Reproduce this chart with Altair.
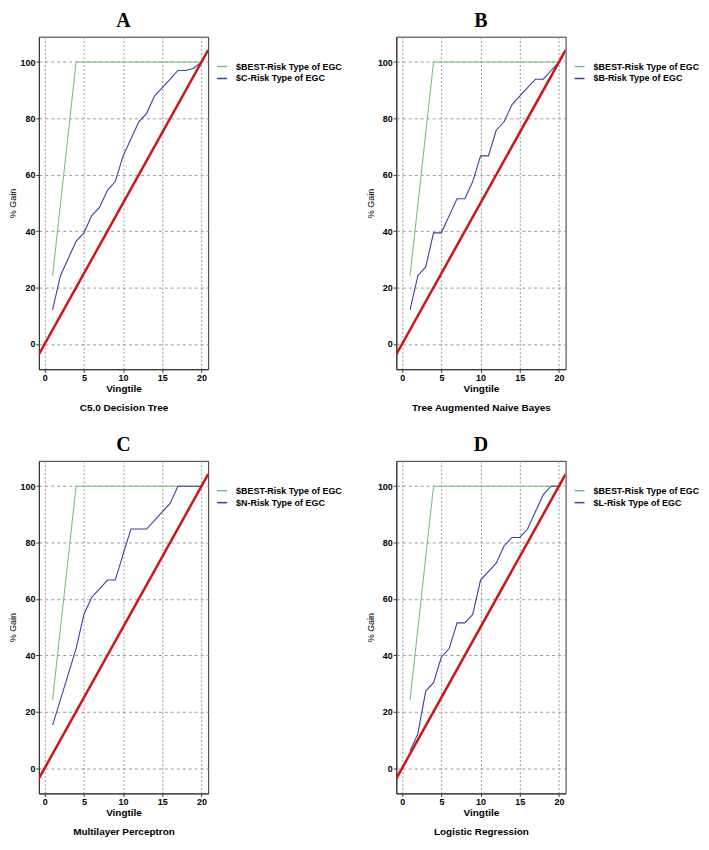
import altair as alt
import pandas as pd

vingtile = list(range(1, 21))
best_gain = [24.2, 49.5, 74.7, 100.0, 100.0, 100.0, 100.0, 100.0, 100.0, 100.0,
             100.0, 100.0, 100.0, 100.0, 100.0, 100.0, 100.0, 100.0, 100.0, 100.0]
c_gain = [12.1, 24.2, 30.3, 36.4, 39.4, 45.5, 48.5, 54.5, 57.6, 66.7,
          72.7, 78.8, 81.8, 87.9, 90.9, 93.9, 97.0, 97.0, 97.8, 100.0]
b_gain = [12.1, 24.2, 27.3, 39.4, 39.4, 45.5, 51.5, 51.5, 57.6, 66.7,
          66.7, 75.8, 78.8, 84.8, 87.9, 90.9, 93.9, 93.9, 97.0, 100.0]
n_gain = [15.2, 24.2, 33.3, 42.4, 54.5, 60.6, 63.6, 66.7, 66.7, 75.8,
          84.8, 84.8, 84.8, 87.9, 90.9, 93.9, 100.0, 100.0, 100.0, 100.0]
l_gain = [6.1, 12.1, 27.3, 30.3, 39.4, 42.4, 51.5, 51.5, 54.5, 66.7,
          69.7, 72.7, 78.8, 81.8, 81.8, 84.8, 90.9, 97.0, 100.0, 100.0]

ref_x = [-0.75, 20.85]
ref_y = [-3.75, 104.25]

letters = ["A", "B", "C", "D"]
series_names = ["$C-Risk Type of EGC", "$B-Risk Type of EGC",
                "$N-Risk Type of EGC", "$L-Risk Type of EGC"]
captions = ["C5.0 Decision Tree", "Tree Augmented Naive Bayes",
            "Multilayer Perceptron", "Logistic Regression"]
model_gains = [c_gain, b_gain, n_gain, l_gain]
best_name = "$BEST-Risk Type of EGC"

GREEN = "#74c27f"
BLUE = "#3c3f9e"
RED = "#cc1616"
W, H = 170, 334


def panel(letter, name, gains, caption):
    df = pd.DataFrame({
        "Vingtile": vingtile + vingtile,
        "Gain": best_gain + gains,
        "Series": [best_name] * len(vingtile) + [name] * len(vingtile),
    })
    ref = pd.DataFrame({"Vingtile": ref_x, "Gain": ref_y})
    x = alt.X("Vingtile:Q",
              scale=alt.Scale(domain=[-0.75, 20.85], nice=False, zero=False),
              axis=alt.Axis(values=[0, 5, 10, 15, 20], title=["Vingtile", caption],
                            titleLineHeight=19, titleFontWeight="bold", titleFontSize=10,
                            titlePadding=1, labelPadding=1,
                            gridDash=[2, 2]))
    y = alt.Y("Gain:Q",
              scale=alt.Scale(domain=[-9, 109], nice=False, zero=False),
              axis=alt.Axis(values=[0, 20, 40, 60, 80, 100], title="% Gain",
                            titleFontWeight="normal", titleFontSize=9,
                            titlePadding=2, labelPadding=1,
                            gridDash=[3, 3]))
    lines = alt.Chart(df).mark_line(strokeWidth=1.1, clip=True).encode(
        x=x, y=y,
        color=alt.Color("Series:N",
                        scale=alt.Scale(domain=[best_name, name], range=[GREEN, BLUE]),
                        sort=[best_name, name],
                        legend=alt.Legend(title=None, orient="none", legendX=W + 9, legendY=25,
                                          symbolType="M-1.25,0H1.25", symbolSize=64,
                                          symbolStrokeWidth=1.5, labelFontSize=9,
                                          labelFontWeight="bold", labelColor="#000",
                                          labelFont="Liberation Sans", rowPadding=2,
                                          labelOffset=9)),
    )
    red = alt.Chart(ref).mark_line(color=RED, strokeWidth=2.5, clip=True).encode(x=x, y=y)
    return alt.layer(lines, red).properties(
        width=W, height=H,
        title=alt.Title(letter, font="Liberation Serif", fontSize=20, fontWeight="bold",
                        color="#000", anchor="middle", frame="group", offset=6),
    )


panels = [panel(letters[i], series_names[i], model_gains[i], captions[i]) for i in range(4)]

row1 = alt.hconcat(panels[0], panels[1], spacing=22).resolve_scale(color="independent")
row2 = alt.hconcat(panels[2], panels[3], spacing=22).resolve_scale(color="independent")
chart = alt.vconcat(row1, row2, spacing=21).resolve_scale(color="independent").properties(
    padding=0, background="white"
).configure_axis(
    labelFont="Liberation Sans", labelFontSize=9, labelFontWeight="bold", labelColor="#000",
    titleFont="Liberation Sans", titleColor="#000",
    domainColor="#333", tickColor="#333", tickSize=3,
    gridColor="#999", gridWidth=1,
).configure_view(stroke="#333", strokeWidth=1)

chart.save("out.html", embed_options={"renderer": "svg", "actions": False})
